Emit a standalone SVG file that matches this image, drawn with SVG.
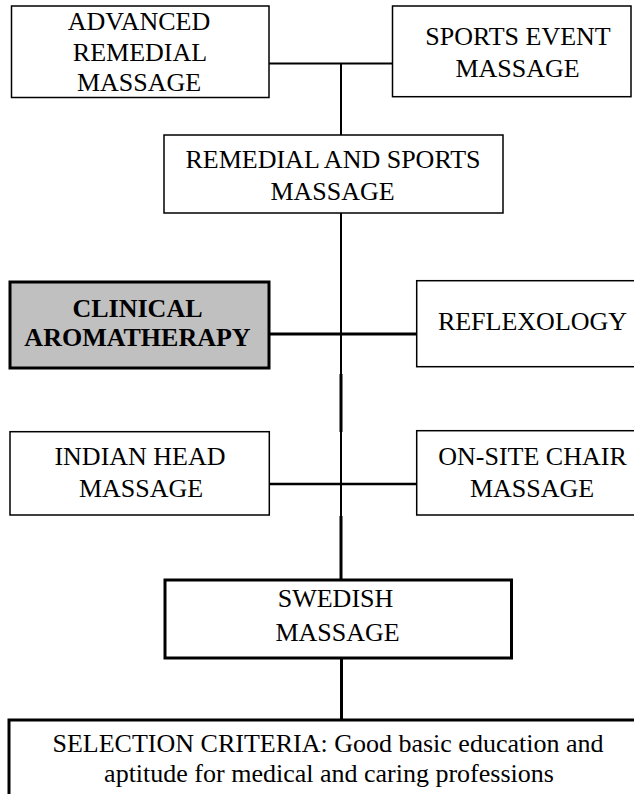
<svg xmlns="http://www.w3.org/2000/svg" width="634" height="794" viewBox="0 0 634 794">
<style>
.box{fill:#fff;stroke:#000;stroke-width:1.5}
.thick{stroke-width:3}
.t{font-family:"Liberation Serif","Times New Roman",serif;font-size:26px;fill:#000;text-anchor:middle}
.b{font-weight:bold}
.c{stroke:#000;fill:none}
</style>
<rect width="634" height="794" fill="#fff"/>
<g id="connectors">
<line class="c" x1="269" y1="63.5" x2="392.5" y2="63.5" stroke-width="2"/>
<line class="c" x1="341" y1="63.5" x2="341" y2="135" stroke-width="2"/>
<line class="c" x1="341" y1="213" x2="341" y2="374" stroke-width="2"/>
<line class="c" x1="341" y1="374" x2="341" y2="432" stroke-width="3"/>
<line class="c" x1="341" y1="432" x2="341" y2="516" stroke-width="2"/>
<line class="c" x1="341" y1="516" x2="341" y2="580" stroke-width="3"/>
<line class="c" x1="341.5" y1="658" x2="341.5" y2="720" stroke-width="3"/>
<line class="c" x1="269" y1="334" x2="417" y2="334" stroke-width="3"/>
<line class="c" x1="269" y1="484" x2="417" y2="484" stroke-width="2.3"/>
</g>
<g id="advanced">
<rect class="box" x="11.5" y="6" width="257.5" height="91.5"/>
<text class="t" x="139" y="30">ADVANCED</text>
<text class="t" x="140" y="60.5">REMEDIAL</text>
<text class="t" x="139" y="91">MASSAGE</text>
</g>
<g id="sports-event">
<rect class="box" x="392.5" y="6" width="238.5" height="90.7"/>
<text class="t" x="518" y="45">SPORTS EVENT</text>
<text class="t" x="517.5" y="77">MASSAGE</text>
</g>
<g id="remedial-sports">
<rect class="box" x="164" y="135" width="339" height="78" stroke-width="2"/>
<text class="t" x="333" y="168">REMEDIAL AND SPORTS</text>
<text class="t" x="332.5" y="200">MASSAGE</text>
</g>
<g id="clinical">
<rect class="box thick" x="10" y="282" width="259" height="86" style="fill:#c0c0c0"/>
<text class="t b" x="137.5" y="316.5">CLINICAL</text>
<text class="t b" x="137.5" y="345.5">AROMATHERAPY</text>
</g>
<g id="reflexology">
<rect class="box" x="416.7" y="280.7" width="240" height="86"/>
<text class="t" x="532.5" y="330">REFLEXOLOGY</text>
</g>
<g id="indian-head">
<rect class="box" x="10" y="431.7" width="259.3" height="83.3" stroke-width="2.3"/>
<text class="t" x="140" y="465">INDIAN HEAD</text>
<text class="t" x="141" y="496.5">MASSAGE</text>
</g>
<g id="on-site">
<rect class="box" x="416.7" y="430.7" width="240" height="84.3"/>
<text class="t" x="532.5" y="465">ON-SITE CHAIR</text>
<text class="t" x="532" y="496.5">MASSAGE</text>
</g>
<g id="swedish">
<rect class="box thick" x="165" y="580" width="346.5" height="78"/>
<text class="t" x="335.5" y="607">SWEDISH</text>
<text class="t" x="337.5" y="641">MASSAGE</text>
</g>
<g id="selection">
<rect class="box thick" x="9" y="720" width="650" height="100"/>
<text class="t" x="328" y="752">SELECTION CRITERIA: Good basic education and</text>
<text class="t" x="329" y="782">aptitude for medical and caring professions</text>
</g>
</svg>
